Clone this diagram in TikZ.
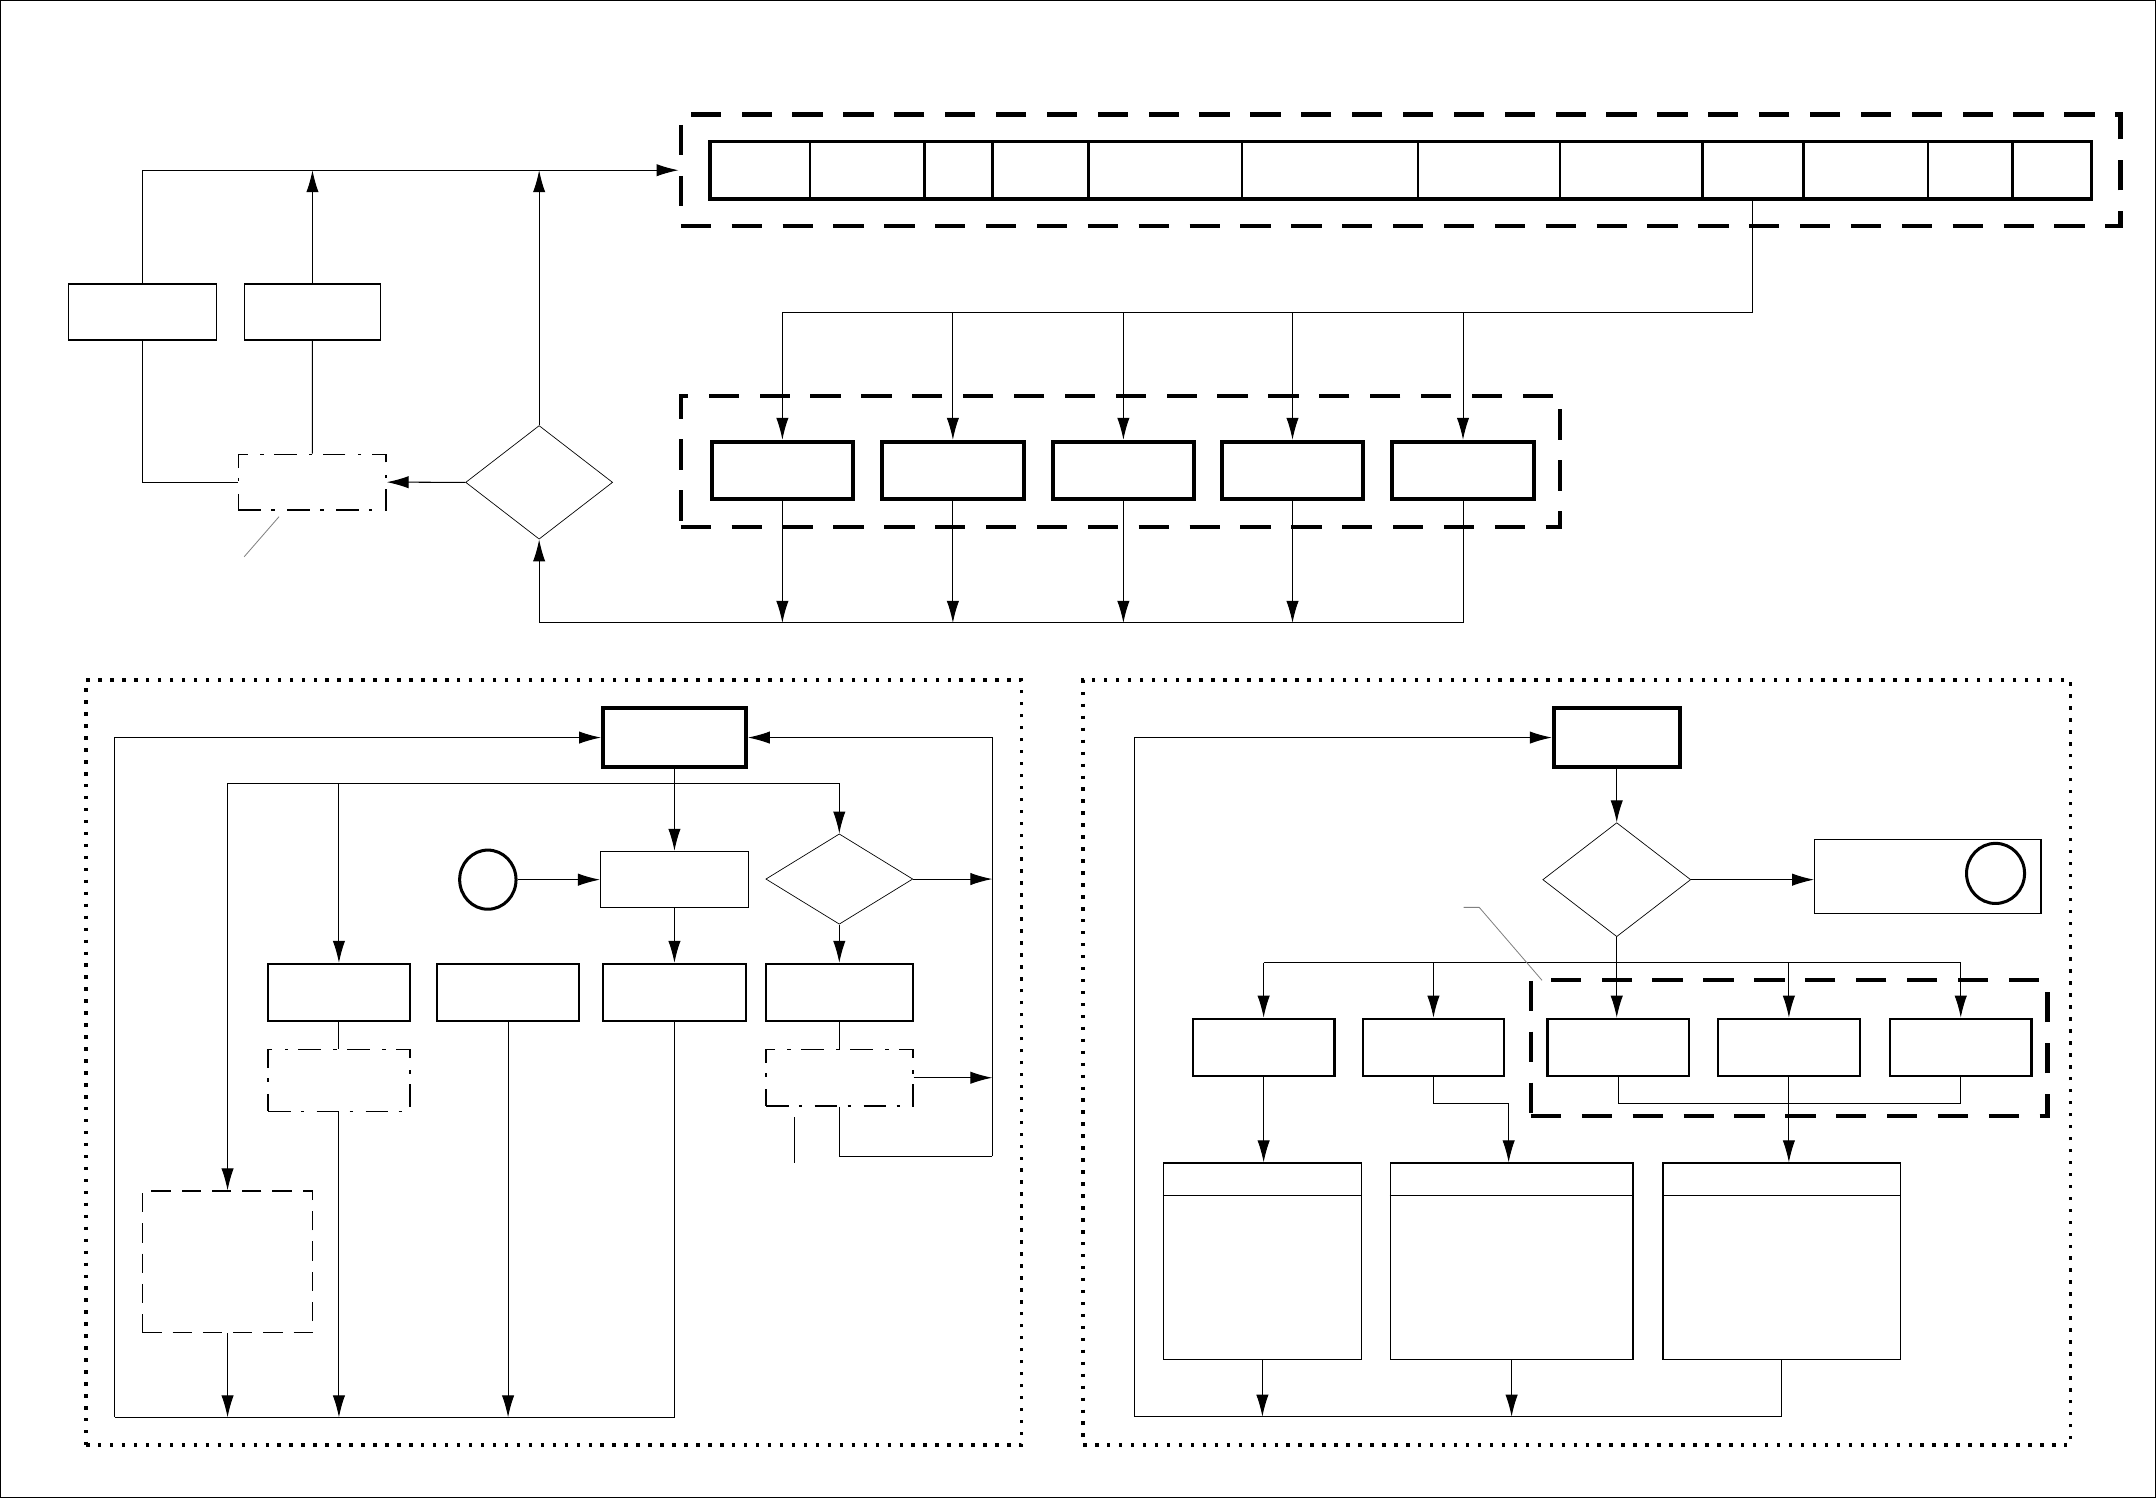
\documentclass[tikz,border=0pt]{standalone}
\usepackage{tikz}
\usetikzlibrary{arrows.meta, shapes.geometric}
\tikzstyle{block} = [rectangle, draw=black, line width=1.6pt, inner sep=0pt, minimum width=103pt, minimum height=41.5pt]
\tikzstyle{heavy} = [block, line width=3pt]
\tikzstyle{plain} = [rectangle, draw=black, line width=0.9pt, inner sep=0pt]
\tikzstyle{dashdot} = [rectangle, draw=black, line width=0.9pt, inner sep=0pt, dash pattern=on 16.5pt off 7.5pt on 2.5pt off 9pt]
\tikzstyle{dashbox} = [rectangle, draw=black, line width=1pt, inner sep=0pt, dash pattern=on 14pt off 8pt]
\tikzstyle{decision} = [diamond, draw=black, line width=0.5pt, inner sep=0pt]
\tikzstyle{ring} = [ellipse, draw=black, line width=2.2pt, inner sep=0pt, minimum width=41pt, minimum height=43pt]
\tikzstyle{group} = [rectangle, draw=black, line width=3.3pt, inner sep=0pt, dash pattern=on 22pt off 15pt]
\tikzstyle{panel} = [rectangle, draw=black, line width=2.5pt, inner sep=0pt, dash pattern=on 2.5pt off 6.2pt]
\tikzstyle{wire} = [line width=0.75pt]
\tikzstyle{arrow} = [wire, -{Latex[length=16pt,width=9pt]}]
\tikzstyle{note} = [line width=0.6pt, gray]

\begin{document}
\begin{tikzpicture}[x=1pt, y=-1pt]
\useasboundingbox (0,0) rectangle (1568,1089.45);
\draw[line width=1pt] (0.5,0.5) rectangle (1567.5,1088.95);

% ===== TOP: REGISTER BAR =====
\node (grp1) [group, minimum width=1046.9pt, minimum height=81.4pt] at (1018.55,123.8) {};
\node (bar) [rectangle, draw=black, line width=2.4pt, inner sep=0pt, minimum width=1004.9pt, minimum height=42pt] at (1018.85,123.8) {};
\foreach \x in {589,672.5,721.8,791.6,903.2,1031.2,1134.5,1237.9,1311.8,1402.2,1463.8}
  \draw[line width=2pt] (\x,102.8) -- (\x,144.8);

% ===== TOP: FIVE UNITS =====
\node (grp2) [group, minimum width=639.4pt, minimum height=95.5pt] at (814.8,335.65) {};
\node (r1) [heavy] at (569,342.1) {};
\node (r2) [heavy] at (693,342.1) {};
\node (r3) [heavy] at (817,342.1) {};
\node (r4) [heavy] at (940,342.1) {};
\node (r5) [heavy] at (1064,342.1) {};
\coordinate (tap) at (1274.2,144.8);
\coordinate (bus) at (1274.2,227);
\coordinate (sink) at (392.1,453);

% ===== TOP LEFT: FEEDBACK =====
\node (lbox) [plain, minimum width=107.8pt, minimum height=40.8pt] at (103.6,226.9) {};
\node (rbox) [plain, minimum width=98.7pt, minimum height=40.8pt] at (227.25,226.9) {};
\node (hold) [dashdot, minimum width=107.4pt, minimum height=40.5pt] at (227.1,350.65) {};
\node (check) [decision, minimum width=106.9pt, minimum height=82.6pt] at (392.1,350.8) {};
\coordinate (noteA1) at (202.9,375.8);
\coordinate (noteA2) at (177.6,404.9);

% ===== ARROWS (TOP) =====
\draw [wire] (tap) -- (bus) -- (r1.north |- bus);
\foreach \r in {r1,r2,r3,r4,r5}
  \draw [arrow] (\r.north |- bus) -- (\r.north);
\foreach \r in {r1,r2,r3,r4}
  \draw [arrow] (\r.south) -- (\r.south |- sink);
\draw [wire] (r5.south) |- (sink);
\draw [arrow] (sink) -- (check.south);
\draw [arrow] (lbox.north) |- (grp1.west);
\draw [arrow] (rbox.north) -- (rbox.north |- grp1.west);
\draw [arrow] (check.north) -- (check.north |- grp1.west);
\draw [wire] (lbox.south) |- (hold.west);
\draw [wire] (rbox.south) -- (hold.north);
\draw [arrow] (check.west) -- (hold.east);
\draw [note] (noteA1) -- (noteA2);

% ===== BOTTOM LEFT PANEL =====
\node (panelL) [panel, minimum width=680.1pt, minimum height=556.4pt] at (402.65,772.7) {};
\node (hub) [heavy, minimum width=103.8pt, minimum height=42.4pt] at (490.5,536.4) {};
\node (ring) [ring] at (354.8,639.75) {};
\node (step) [plain, minimum width=107.4pt, minimum height=40.7pt] at (490.5,639.55) {};
\node (test) [decision, minimum width=106.9pt, minimum height=65.7pt] at (610.4,639.3) {};
\node (b1) [block, minimum width=103.3pt] at (246.5,721.8) {};
\node (b2) [block, minimum width=103.4pt] at (369.5,721.8) {};
\node (b3) [block, minimum width=103.5pt] at (490.5,721.8) {};
\node (b4) [block, minimum width=107pt] at (610.5,721.8) {};
\node (sub1) [dashdot, minimum width=103.3pt, minimum height=45pt] at (246.5,785.7) {};
\node (sub4) [dashdot, minimum width=107pt, minimum height=41.2pt] at (610.5,783.8) {};
\node (wait) [dashbox, minimum width=123.8pt, minimum height=102.8pt] at (165.5,917.6) {};
\coordinate (loopL) at (83.6,1030.8);
\coordinate (loopR) at (721.7,840.9);
\coordinate (splitL) at (165.5,569.7);
\coordinate (markA) at (577.9,812.6);
\coordinate (markB) at (577.9,846);

\draw [arrow] (loopL) |- (hub.west);
\draw [arrow] (loopR) |- (hub.east);
\draw [wire] (b3.south) |- (loopL);
\draw [wire] (splitL) -- (test.north |- splitL);
\draw [arrow] (splitL) -- (wait.north);
\draw [arrow] (b1.north |- splitL) -- (b1.north);
\draw [arrow] (test.north |- splitL) -- (test.north);
\draw [arrow] (hub.south) -- (step.north);
\draw [arrow] (ring.east) -- (ring.east -| step.west);
\draw [arrow] (step.south) -- (b3.north);
\draw [arrow] (test.south) -- (test.south |- b4.north);
\draw [arrow] (test.east) -- (test.east -| loopR);
\draw [wire] (b1.south) -- (sub1.north);
\draw [wire] (b4.south) -- (sub4.north);
\draw [arrow] (sub4.east) -- (sub4.east -| loopR);
\draw [wire] (sub4.south) |- (loopR);
\draw [arrow] (sub1.south) -- (sub1.south |- loopL);
\draw [arrow] (b2.south) -- (b2.south |- loopL);
\draw [arrow] (wait.south) -- (wait.south |- loopL);
\draw [wire] (markA) -- (markB);

% ===== BOTTOM RIGHT PANEL =====
\node (panelR) [panel, minimum width=718pt, minimum height=556.4pt] at (1146.7,772.7) {};
\node (hubR) [heavy, minimum width=91.4pt, minimum height=42.4pt] at (1175.8,536.4) {};
\node (testR) [decision, minimum width=107.6pt, minimum height=82.9pt] at (1175.8,639.75) {};
\node (endbox) [plain, minimum width=164.6pt, minimum height=54.1pt] at (1402.1,637.45) {};
\node (endring) [ring, minimum width=42.2pt, minimum height=43.7pt] at (1451.3,635.2) {};
\node (grp3) [group, minimum width=375.7pt, minimum height=99pt] at (1301.25,762.2) {};
\node (c1) [block] at (919,761.65) {};
\node (c2) [block] at (1042.5,761.65) {};
\node (c3) [block] at (1177,761.65) {};
\node (c4) [block] at (1301,761.65) {};
\node (c5) [block] at (1426,761.65) {};
\node (t1) [plain, minimum width=143.8pt, minimum height=143pt] at (918.1,917.3) {};
\node (t2) [plain, minimum width=176.7pt, minimum height=143pt] at (1099.35,917.3) {};
\node (t3) [plain, minimum width=172.6pt, minimum height=143pt] at (1295.7,917.3) {};
\foreach \t in {t1,t2,t3}
  \draw [line width=0.9pt] ([yshift=-23.9pt]\t.north west) -- ([yshift=-23.9pt]\t.north east);
\coordinate (loopRR) at (825.3,1030.3);
\coordinate (splitR) at (919,700.2);
\coordinate (elbow) at (1097.2,802.7);
\coordinate (noteB1) at (1064.5,659.9);
\coordinate (noteB2) at (1075.8,659.9);
\coordinate (noteB3) at (1121.5,713);

\draw [arrow] (loopRR) |- (hubR.west);
\draw [arrow] (hubR.south) -- (testR.north);
\draw [arrow] (testR.east) -- (testR.east -| endbox.west);
\draw [wire] (splitR) -- (c5.north |- splitR);
\draw [arrow] (testR.south) -- (testR.south |- c3.north);
\foreach \c in {c1,c2,c4,c5}
  \draw [arrow] (\c.north |- splitR) -- (\c.north);
\draw [arrow] (c1.south) -- (c1.south |- t1.north);
\draw [arrow] (c2.south) |- (elbow) -- (elbow |- t2.north);
\draw [wire] (c3.south) |- (c5.south |- elbow) -- (c5.south);
\draw [arrow] (c4.south) -- (c4.south |- t3.north);
\draw [arrow] (t1.south) -- (t1.south |- loopRR);
\draw [arrow] (t2.south) -- (t2.south |- loopRR);
\draw [wire] (t3.south) |- (loopRR);
\draw [note] (noteB1) -- (noteB2) -- (noteB3);

\end{tikzpicture}
\end{document}
